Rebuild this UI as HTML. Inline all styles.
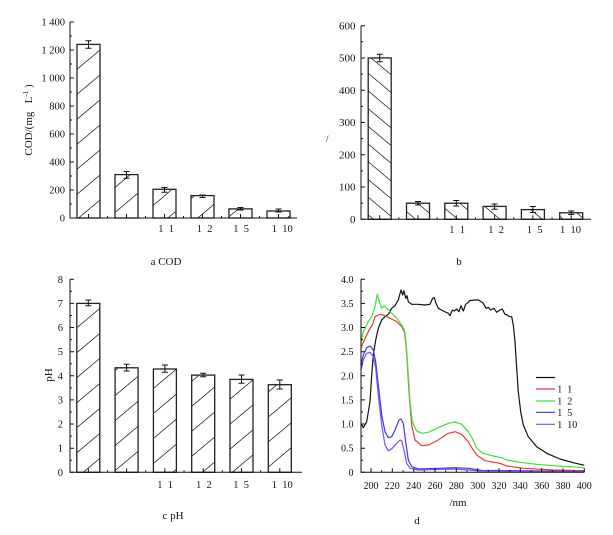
<!DOCTYPE html>
<html><head><meta charset="utf-8"><style>
html,body{margin:0;padding:0;background:#fff;}
svg{display:block;}
text{font-family:"Liberation Serif","Noto Serif CJK SC",serif;fill:#111;}
</style></head><body>
<svg width="613" height="535" viewBox="0 0 613 535" xmlns="http://www.w3.org/2000/svg">
<defs>
<pattern id="pa" patternUnits="userSpaceOnUse" width="40" height="25" patternTransform="translate(0,-3.6) skewY(-40)">
<line x1="-1" y1="12.5" x2="41" y2="12.5" stroke="#222" stroke-width="1.1"/></pattern>
<pattern id="pc" patternUnits="userSpaceOnUse" width="40" height="25" patternTransform="translate(0,4.65) skewY(-40)">
<line x1="-1" y1="12.5" x2="41" y2="12.5" stroke="#222" stroke-width="1.1"/></pattern>
<pattern id="pb" patternUnits="userSpaceOnUse" width="40" height="17.7" patternTransform="translate(0,3.25) skewY(40)">
<line x1="-1" y1="8.85" x2="41" y2="8.85" stroke="#222" stroke-width="1.1"/></pattern>
</defs>

<!-- ===== Chart a ===== -->
<g stroke="#222" stroke-width="1.3" fill="url(#pa)">
<rect x="77" y="44.4" width="23" height="173.6"/>
<rect x="115" y="174.6" width="23" height="43.4"/>
<rect x="153" y="189.3" width="23" height="28.7"/>
<rect x="191" y="195.6" width="23" height="22.4"/>
<rect x="229" y="208.9" width="23" height="9.1"/>
<rect x="267" y="211" width="23" height="7"/>
</g>
<g stroke="#111" stroke-width="1" fill="none">
<path d="M70 22V218H297"/>
<path d="M70 218h4M70 190h4M70 162h4M70 134h4M70 106h4M70 78h4M70 50h4M70 22h4M70 204h2M70 176h2M70 148h2M70 120h2M70 92h2M70 64h2M70 36h2"/>
<path d="M88.5 218v-4M126.5 218v-4M164.5 218v-4M202.5 218v-4M240.5 218v-4M278.5 218v-4M107.5 218v-2M145.5 218v-2M183.5 218v-2M221.5 218v-2M259.5 218v-2"/>
<path d="M88.5 40.7V48.3M85.5 40.7h6M85.5 48.3h6 M126.5 171.5V178.3M123.5 171.5h6M123.5 178.3h6 M164.5 187.5V192.3M161.5 187.5h6M161.5 192.3h6 M202.5 195V197.5M199.5 195h6M199.5 197.5h6 M240.5 207.5V210M237.5 207.5h6M237.5 210h6 M278.5 209V212M275.5 209h6M275.5 212h6"/>
</g>
<g font-size="10.5" text-anchor="end">
<text x="65" y="221.5">0</text>
<text x="65" y="193.5">200</text>
<text x="65" y="165.5">400</text>
<text x="65" y="137.5">600</text>
<text x="65" y="109.5">800</text>
<text x="65" y="81.5">1 000</text>
<text x="65" y="53.5">1 200</text>
<text x="65" y="25.5">1 400</text>
</g>
<g font-size="10.5">
<text x="158.3" y="232">1&#160;&#160;1</text>
<text x="196.7" y="232">1&#160;&#160;2</text>
<text x="233.3" y="232">1&#160;&#160;5</text>
<text x="271.7" y="232">1&#160;&#160;10</text>
</g>
<text font-size="11" transform="translate(32,120) rotate(-90)" text-anchor="middle">COD/(mg&#160;&#160;&#160;L<tspan font-size="7" dy="-4">-1</tspan><tspan dy="4">&#160;)</tspan></text>
<text font-size="11" x="166" y="265" text-anchor="middle">a COD</text>

<!-- ===== Chart b ===== -->
<g stroke="#222" stroke-width="1.3" fill="url(#pb)">
<rect x="368.2" y="57.95" width="23" height="161.35"/>
<rect x="406.5" y="203.2" width="23" height="16.1"/>
<rect x="444.8" y="203.2" width="23" height="16.1"/>
<rect x="483.1" y="206.4" width="23" height="12.9"/>
<rect x="521.4" y="209.6" width="23" height="9.7"/>
<rect x="559.7" y="212.8" width="23" height="6.5"/>
</g>
<g stroke="#111" stroke-width="1" fill="none">
<path d="M361 25.7V219.3H591"/>
<path d="M361 219.3h4M361 187h4M361 154.8h4M361 122.5h4M361 90.2h4M361 57.95h4M361 25.7h4M361 203.2h2M361 170.9h2M361 138.6h2M361 106.4h2M361 74.1h2M361 41.8h2"/>
<path d="M379.7 219.3v-4M418 219.3v-4M456.3 219.3v-4M494.6 219.3v-4M532.9 219.3v-4M571.2 219.3v-4M398.85 219.3v-2M437.15 219.3v-2M475.45 219.3v-2M513.75 219.3v-2M552.05 219.3v-2"/>
<path d="M379.7 54.3V61.7M376.7 54.3h6M376.7 61.7h6 M418 201.5V205M415 201.5h6M415 205h6 M456.3 200.5V206M453.3 200.5h6M453.3 206h6 M494.6 204V209.3M491.6 204h6M491.6 209.3h6 M532.9 206.5V212.5M529.9 206.5h6M529.9 212.5h6 M571.2 211V214.5M568.2 211h6M568.2 214.5h6"/>
</g>
<g font-size="11" text-anchor="end">
<text x="355.5" y="223">0</text>
<text x="355.5" y="190.7">100</text>
<text x="355.5" y="158.5">200</text>
<text x="355.5" y="126.2">300</text>
<text x="355.5" y="93.9">400</text>
<text x="355.5" y="61.7">500</text>
<text x="355.5" y="29.4">600</text>
</g>
<g font-size="10.5">
<text x="449.3" y="233">1&#160;&#160;1</text>
<text x="488.3" y="233">1&#160;&#160;2</text>
<text x="526.7" y="233">1&#160;&#160;5</text>
<text x="560" y="233">1&#160;&#160;10</text>
</g>
<text font-size="9" x="326" y="142">/</text>
<text font-size="11" x="459" y="265" text-anchor="middle">b</text>

<!-- ===== Chart c ===== -->
<g stroke="#222" stroke-width="1.3" fill="url(#pc)">
<rect x="76.8" y="303.4" width="23" height="168.9"/>
<rect x="115.1" y="367.8" width="23" height="104.5"/>
<rect x="153.4" y="369" width="23" height="103.3"/>
<rect x="191.7" y="375.1" width="23" height="97.2"/>
<rect x="230" y="379.4" width="23" height="92.9"/>
<rect x="268.3" y="384.7" width="23" height="87.6"/>
</g>
<g stroke="#111" stroke-width="1" fill="none">
<path d="M70 279.3V472.3H302"/>
<path d="M70 472.3h4M70 448.2h4M70 424h4M70 399.9h4M70 375.8h4M70 351.7h4M70 327.5h4M70 303.4h4M70 279.3h4M70 460.2h2M70 436.1h2M70 412h2M70 387.9h2M70 363.7h2M70 339.6h2M70 315.5h2M70 291.3h2"/>
<path d="M88.3 472.3v-4M126.6 472.3v-4M164.9 472.3v-4M203.2 472.3v-4M241.5 472.3v-4M279.8 472.3v-4M107.45 472.3v-2M145.75 472.3v-2M184.05 472.3v-2M222.35 472.3v-2M260.65 472.3v-2"/>
<path d="M88.3 300V305.7M85.3 300h6M85.3 305.7h6 M126.6 364.3V371M123.6 364.3h6M123.6 371h6 M164.9 365V372.3M161.9 365h6M161.9 372.3h6 M203.2 373.3V376.7M200.2 373.3h6M200.2 376.7h6 M241.5 375V383.3M238.5 375h6M238.5 383.3h6 M279.8 380V389M276.8 380h6M276.8 389h6"/>
</g>
<g font-size="10.5" text-anchor="end">
<text x="63" y="475.8">0</text>
<text x="63" y="451.7">1</text>
<text x="63" y="427.5">2</text>
<text x="63" y="403.4">3</text>
<text x="63" y="379.3">4</text>
<text x="63" y="355.2">5</text>
<text x="63" y="331">6</text>
<text x="63" y="306.9">7</text>
<text x="63" y="282.8">8</text>
</g>
<g font-size="10.5">
<text x="157.3" y="488">1&#160;&#160;1</text>
<text x="196" y="488">1&#160;&#160;2</text>
<text x="233.3" y="488">1&#160;&#160;5</text>
<text x="271.7" y="488">1&#160;&#160;10</text>
</g>
<text font-size="11" transform="translate(52,375) rotate(-90)" text-anchor="middle">pH</text>
<text font-size="11" x="173" y="519" text-anchor="middle">c pH</text>

<!-- ===== Chart d ===== -->
<g fill="none" stroke-width="1.2" stroke-linejoin="round">
<polyline stroke="#111" points="361,423.5 363.3,427.7 366.7,421.7 370,401.7 371.7,375 373.3,355 375.7,340 378.3,328.3 381.7,320 385,316.7 388.3,314.3 391.7,308.3 395,305.7 398.3,300 401,290 402.7,295 404,290.7 405.7,298.3 407,295.7 408.3,301.7 411.7,304.3 418.3,304.3 425,305 430,304.3 432.7,298.3 434.3,297.7 436,303.3 438.3,308.3 443.3,311 448.3,313.3 450,315.7 452.3,310 454.3,311 456.7,309 459,311.7 461,305.7 463.3,311 465.7,304.3 468.3,302.3 470,300.5 475,300 478.3,300 481.7,302 483.3,303.3 486,308.3 488.3,307.3 490.7,310 494,308.3 496.7,312.3 500,310 502.3,309 505,314.3 507.3,315 509.3,316.7 511.7,316.7 513.3,325 515,341.7 516.7,368.3 518.3,391.7 520.7,411.7 523.3,425 528.3,436.7 536.7,446.7 546.7,453.3 560,459 573.3,462.7 584.3,465.3"/>
<polyline stroke="#e83a3a" points="361,348 365,338.3 370,328.3 372.3,325 375,316.7 378.3,315 381.7,314.3 386.7,316.7 391.7,319 396.7,321.7 401.7,326.7 404.3,331.7 405.7,341.7 407,358.3 409,391.7 411.7,425 415,440 421.7,445.7 428.3,445 438.3,440 448.3,433.3 455,431.7 461.7,434.3 468.3,441.7 472,448 476.7,455 485,460.7 500,463.3 506.7,466 523.3,468.3 553.3,470 584.3,470.7"/>
<polyline stroke="#3ee03e" points="361,342 363.3,331.7 368.3,321.7 371.7,316.7 375,306.7 377.3,294.3 379.3,301.7 381.7,308.3 384.3,305.7 386.7,308.3 391.7,313.3 396.7,318.3 401.7,325 404.3,330 405.7,338.3 406.7,351.7 408.3,375 410,401.7 412.3,421.7 416.7,431 421.7,433.3 428.3,432.3 438.3,427.7 448.3,423.3 455,422 461.7,424.3 468.3,431.7 472,438 476.7,448.3 483.3,453.3 493.3,456 501.7,457.7 506.7,460 520,462.3 536.7,464.3 556.7,466 584.3,467.7"/>
<polyline stroke="#3a3ae8" points="361,366 363.3,355 366.7,347.7 370,346 373.3,350 375.7,361.7 378.3,385 381.7,415 385,431.7 388.3,437.7 391.7,436.7 395,430 399,420 401,419 403.3,423.3 405.7,441.7 408.3,460 411.7,466.7 418.3,469 438.3,468.3 455,467.7 468.3,468.3 481.7,470.3 584.3,471.5"/>
<polyline stroke="#8a4af0" points="361,370 363.3,360 366.7,353.3 370,352.3 373.3,356.7 375.7,368.3 378.3,395 381.7,425 385,445 388.3,450.7 392.3,448.3 396.7,443.3 400,440 401.7,440.7 404.3,451.7 406.7,463.3 410,468.3 418.3,470 455,469 481.7,471 584.3,471.8"/>
</g>
<g stroke="#111" stroke-width="1" fill="none">
<path d="M361 279.3V472.3H584.3"/>
<path d="M361 472.3h4M361 448.2h4M361 424h4M361 399.9h4M361 375.8h4M361 351.7h4M361 327.5h4M361 303.4h4M361 279.3h4M361 460.2h2M361 436.1h2M361 412h2M361 387.9h2M361 363.7h2M361 339.6h2M361 315.5h2M361 291.3h2"/>
<path d="M371 472.3v-4M392.3 472.3v-4M413.7 472.3v-4M435 472.3v-4M456.3 472.3v-4M477.7 472.3v-4M499 472.3v-4M520.3 472.3v-4M541.7 472.3v-4M563 472.3v-4M584.3 472.3v-4M381.7 472.3v-2M403 472.3v-2M424.3 472.3v-2M445.7 472.3v-2M467 472.3v-2M488.3 472.3v-2M509.7 472.3v-2M531 472.3v-2M552.3 472.3v-2M573.7 472.3v-2"/>
</g>
<g font-size="10" text-anchor="end">
<text x="353.5" y="475.8">0</text>
<text x="353.5" y="451.7">0.5</text>
<text x="353.5" y="427.5">1.0</text>
<text x="353.5" y="403.4">1.5</text>
<text x="353.5" y="379.3">2.0</text>
<text x="353.5" y="355.2">2.5</text>
<text x="353.5" y="331">3.0</text>
<text x="353.5" y="306.9">3.5</text>
<text x="353.5" y="282.8">4.0</text>
</g>
<g font-size="10" text-anchor="middle">
<text x="371" y="489">200</text>
<text x="392.3" y="489">220</text>
<text x="413.7" y="489">240</text>
<text x="435" y="489">260</text>
<text x="456.3" y="489">280</text>
<text x="477.7" y="489">300</text>
<text x="499" y="489">320</text>
<text x="520.3" y="489">340</text>
<text x="541.7" y="489">360</text>
<text x="563" y="489">380</text>
<text x="584.3" y="489">400</text>
</g>
<text font-size="11" x="458" y="506" text-anchor="middle">/nm</text>
<text font-size="11" x="417" y="524" text-anchor="middle">d</text>
<!-- legend -->
<g stroke-width="1.2">
<line x1="536" y1="377.5" x2="555" y2="377.5" stroke="#111"/>
<line x1="536" y1="389" x2="555" y2="389" stroke="#e83a3a"/>
<line x1="536" y1="401" x2="555" y2="401" stroke="#3ee03e"/>
<line x1="536" y1="412.3" x2="555" y2="412.3" stroke="#3a3ae8"/>
<line x1="536" y1="424.3" x2="555" y2="424.3" stroke="#8a4af0"/>
</g>
<g font-size="10">
<text x="557.3" y="392.5">1&#160;&#160;1</text>
<text x="557.3" y="404.5">1&#160;&#160;2</text>
<text x="557.3" y="415.8">1&#160;&#160;5</text>
<text x="557.3" y="427.8">1&#160;&#160;10</text>
</g>
</svg>
</body></html>
